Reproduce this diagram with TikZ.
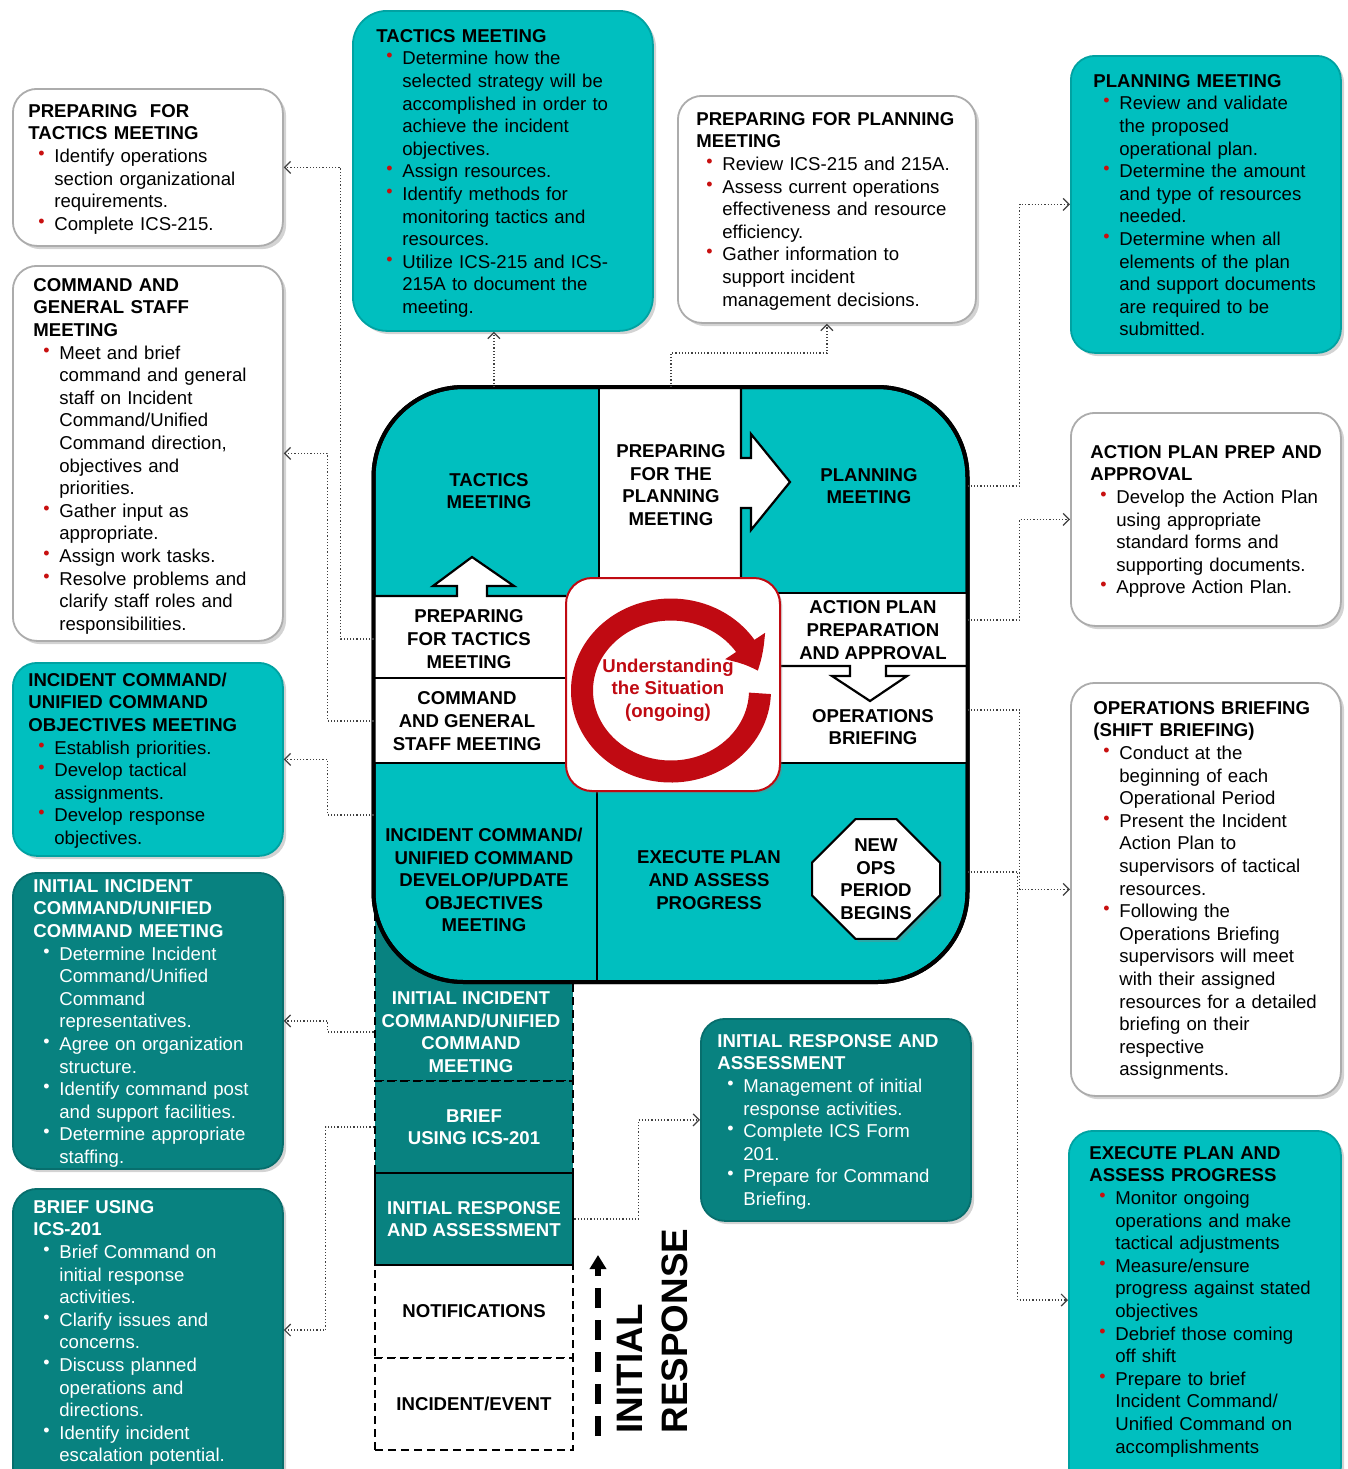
\documentclass[tikz,border=0pt]{standalone}
\usepackage{fontspec}
\setmainfont{Liberation Sans}
\usetikzlibrary{arrows.meta,bending,shadows,shapes.misc}
\definecolor{tealL}{RGB}{0,191,191}
\definecolor{tealD}{RGB}{8,130,128}
\definecolor{bulred}{RGB}{200,16,16}
\definecolor{ringred}{RGB}{192,10,18}
\newcommand{\ttl}[1]{\raggedright\noindent\strut\textbf{#1}\par}
\newcommand{\itm}[2][bulred]{\par\hangindent=13pt\hangafter=1\noindent\makebox[13pt][l]{\hspace{5pt}\textcolor{#1}{\raisebox{.3ex}{\small\textbullet}}}#2\par}
\tikzset{
  card/.style={rounded corners=12pt, inner sep=0pt, anchor=north west, line width=0.9pt,
    drop shadow={opacity=.35, shadow xshift=1.6pt, shadow yshift=-1.6pt}},
  wcard/.style={card, fill=white, draw=gray!65},
  lcard/.style={card, fill=tealL, draw=tealL!85!black},
  dcard/.style={card, fill=tealD, draw=tealD!85!black},
  txt/.style={inner sep=0pt, anchor=north west, text width=150pt, font=\fontsize{9.3}{11.3}\selectfont},
  lbl/.style={inner sep=0pt, align=center, font=\fontsize{9.3}{11.3}\selectfont\bfseries},
  stk/.style={draw, line width=1.2pt, dash pattern=on 4pt off 2.5pt, minimum width=99pt, inner sep=0pt},
  grid/.style={line width=1.1pt},
  conn/.style={densely dotted, line width=0.6pt, black!75, -{Straight Barb[length=3pt,width=6pt]}},
}
\begin{document}
\begin{tikzpicture}[x=0.5pt, y=-0.5pt]
\useasboundingbox (0,0) rectangle (1348,1469);

\node[wcard, minimum width=135pt, minimum height=78.5pt] (b1) at (12,88) {};
\node[txt] (t1) at (28,101) {\ttl{PREPARING\ \ FOR\newline TACTICS MEETING}
  \itm{Identify operations\newline section organizational\newline requirements.}
  \itm{Complete ICS-215.}};

\node[wcard, minimum width=135pt, minimum height=187.5pt] (b2) at (12,265) {};
\node[txt] (t2) at (33,275) {\ttl{COMMAND AND\newline GENERAL STAFF\newline MEETING}
  \itm{Meet and brief\newline command and general\newline staff on Incident\newline Command/Unified\newline Command direction,\newline objectives and\newline priorities.}
  \itm{Gather input as\newline appropriate.}
  \itm{Assign work tasks.}
  \itm{Resolve problems and\newline clarify staff roles and\newline responsibilities.}};

\node[lcard, minimum width=135pt, minimum height=96.5pt] (b3) at (12,662) {};
\node[txt] (t3) at (28,670) {\ttl{INCIDENT COMMAND/\newline UNIFIED COMMAND\newline OBJECTIVES MEETING}
  \itm{Establish priorities.}
  \itm{Develop tactical\newline assignments.}
  \itm{Develop response\newline objectives.}};

\node[dcard, minimum width=135pt, minimum height=148pt] (b4) at (12,872) {};
\node[txt, text=white] (t4) at (33,876) {\ttl{INITIAL INCIDENT\newline COMMAND/UNIFIED\newline COMMAND MEETING}
  \itm[white]{Determine Incident\newline Command/Unified\newline Command\newline representatives.}
  \itm[white]{Agree on organization\newline structure.}
  \itm[white]{Identify command post\newline and support facilities.}
  \itm[white]{Determine appropriate\newline staffing.}};

\node[dcard, minimum width=135pt, minimum height=160pt] (b5) at (12,1188) {};
\node[txt, text=white] (t5) at (33,1197) {\ttl{BRIEF USING\newline ICS-201}
  \itm[white]{Brief Command on\newline initial response\newline activities.}
  \itm[white]{Clarify issues and\newline concerns.}
  \itm[white]{Discuss planned\newline operations and\newline directions.}
  \itm[white]{Identify incident\newline escalation potential.}};

\node[lcard, rounded corners=17pt, minimum width=150pt, minimum height=160pt] (b6) at (352,10) {};
\node[txt] (t6) at (376,26) {\ttl{TACTICS MEETING}
  \itm{Determine how the\newline selected strategy will be\newline accomplished in order to\newline achieve the incident\newline objectives.}
  \itm{Assign resources.}
  \itm{Identify methods for\newline monitoring tactics and\newline resources.}
  \itm{Utilize ICS-215 and ICS-\newline 215A to document the\newline meeting.}};

\node[wcard, minimum width=149pt, minimum height=113.5pt] (b7) at (677,95) {};
\node[txt] (t7) at (696,109) {\ttl{PREPARING FOR PLANNING\newline MEETING}
  \itm{Review ICS-215 and 215A.}
  \itm{Assess current operations\newline effectiveness and resource\newline efficiency.}
  \itm{Gather information to\newline support incident\newline management decisions.}};

\node[lcard, minimum width=135pt, minimum height=148.5pt] (b8) at (1070,55) {};
\node[txt] (t8) at (1093,71) {\ttl{PLANNING MEETING}
  \itm{Review and validate\newline the proposed\newline operational plan.}
  \itm{Determine the amount\newline and type of resources\newline needed.}
  \itm{Determine when all\newline elements of the plan\newline and support documents\newline are required to be\newline submitted.}};

\node[wcard, minimum width=135pt, minimum height=106.5pt] (b9) at (1070,412) {};
\node[txt] (t9) at (1090,442) {\ttl{ACTION PLAN PREP AND\newline APPROVAL}
  \itm{Develop the Action Plan\newline using appropriate\newline standard forms and\newline supporting documents.}
  \itm{Approve Action Plan.}};

\node[wcard, minimum width=135pt, minimum height=206.5pt] (b10) at (1070,682) {};
\node[txt] (t10) at (1093,698) {\ttl{OPERATIONS BRIEFING\newline (SHIFT BRIEFING)}
  \itm{Conduct at the\newline beginning of each\newline Operational Period}
  \itm{Present the Incident\newline Action Plan to\newline supervisors of tactical\newline resources.}
  \itm{Following the\newline Operations Briefing\newline supervisors will meet\newline with their assigned\newline resources for a detailed\newline briefing on their\newline respective\newline assignments.}};

\node[lcard, minimum width=136pt, minimum height=180pt] (b11) at (1068,1130) {};
\node[txt] (t11) at (1089,1143) {\ttl{EXECUTE PLAN AND\newline ASSESS PROGRESS}
  \itm{Monitor ongoing\newline operations and make\newline tactical adjustments}
  \itm{Measure/ensure\newline progress against stated\newline objectives}
  \itm{Debrief those coming\newline off shift}
  \itm{Prepare to brief\newline Incident Command/\newline Unified Command on\newline accomplishments}};

\node[dcard, minimum width=135pt, minimum height=101pt] (b12) at (700,1018) {};
\node[txt, text=white] (t12) at (717,1031) {\ttl{INITIAL RESPONSE AND\newline ASSESSMENT}
  \itm[white]{Management of initial\newline response activities.}
  \itm[white]{Complete ICS Form\newline 201.}
  \itm[white]{Prepare for Command\newline Briefing.}};

\draw[stk, fill=tealD] (375,900) rectangle (573,1081);
\node[stk, fill=tealD, minimum height=46pt] (sbr) at (474,1127) {};
\node[stk, fill=white, minimum height=46.5pt] (sno) at (474,1311.5) {};
\node[stk, fill=white, minimum height=46pt] (sie) at (474,1404) {};
\node[stk, solid, line width=1.4pt, fill=tealD, minimum height=46pt] (sir) at (474,1219) {};

\node[draw, line width=2pt, fill=tealL, rounded corners=45pt, minimum width=297pt, minimum height=297.5pt, inner sep=0pt, outer sep=0pt, anchor=north west] (blk) at (373.5,387) {};
\fill[white] (599,387) -- (741,387) -- (741,458) -- (751,458) -- (751,434) -- (790,482) -- (751,530) -- (751,508) -- (741,508) -- (741,580) -- (599,580) -- cycle;
\draw[grid] (599,387) -- (599,580);
\draw[grid] (741,387) -- (741,458) -- (751,458) -- (751,434) -- (790,482) -- (751,530) -- (751,508) -- (741,508) -- (741,580);
\fill[white] (374,596) rectangle (566,763);
\fill[white] (457,597) -- (457,586) -- (433,586) -- (472,557) -- (514,586) -- (487,586) -- (487,597) -- cycle;
\draw[grid] (374,596) -- (457,596) -- (457,586) -- (433,586) -- (472,557) -- (514,586) -- (487,586) -- (487,596) -- (566,596);
\draw[grid] (374,678) -- (566,678) (374,763) -- (566,763);
\fill[white] (778,593) rectangle (967,763);
\draw[grid] (778,593) -- (967,593) (778,763) -- (967,763);
\draw[grid] (778,666) -- (850,666) -- (850,676) -- (832,676) -- (870,701) -- (907,676) -- (886,676) -- (886,666) -- (967,666);
\draw[grid] (597,785) -- (597,982);
\draw[line width=2pt, rounded corners=45pt] (blk.north west) rectangle (blk.south east);

\node[draw=ringred, line width=1pt, fill=white, rounded corners=13pt, minimum width=107pt, minimum height=106.5pt, inner sep=0pt, anchor=north west, drop shadow={opacity=.3, shadow xshift=1.2pt, shadow yshift=-1.2pt}] (usq) at (565,577) {};
\draw[ringred, line width=11pt, -{Triangle[width=23pt,length=14pt,bend]}] ([xshift=-1pt,yshift=-3pt]usq.center) ++(-2:44.5pt and 40.5pt) arc[start angle=-2, end angle=-346, x radius=44.5pt, y radius=40.5pt];

\node[lbl] (lt) at (489,491) {TACTICS\\MEETING};
\node[lbl] (lpp) at (671,485) {PREPARING\\FOR THE\\PLANNING\\MEETING};
\node[lbl] (lpm) at (869,486) {PLANNING\\MEETING};
\node[lbl] (lpt) at (469,639) {PREPARING\\FOR TACTICS\\MEETING};
\node[lbl] (lcg) at (467,721) {COMMAND\\AND GENERAL\\STAFF MEETING};
\node[lbl] (lap) at (873,630) {ACTION PLAN\\PREPARATION\\AND APPROVAL};
\node[lbl] (lob) at (873,727) {OPERATIONS\\BRIEFING};
\node[lbl] (lic) at (484,880) {INCIDENT COMMAND/\\UNIFIED COMMAND\\DEVELOP/UPDATE\\OBJECTIVES\\MEETING};
\node[lbl] (lex) at (709,880) {EXECUTE PLAN\\AND ASSESS\\PROGRESS};
\node[lbl, text=ringred] (lus) at (668,690) {Understanding\\the Situation\\(ongoing)};
\node[lbl, draw, line width=1pt, fill=white, chamfered rectangle, chamfered rectangle xsep=12pt, chamfered rectangle ysep=9.75pt, minimum width=64pt, minimum height=53.5pt, drop shadow={opacity=.35, shadow xshift=1.5pt, shadow yshift=-1.5pt}] (nops) at (876,879) {NEW\\OPS\\PERIOD\\BEGINS};

\node[lbl, text=white] (sii) at (471,1032) {INITIAL INCIDENT\\COMMAND/UNIFIED\\COMMAND\\MEETING};
\node[lbl, text=white] at (sbr) {BRIEF\\USING ICS-201};
\node[lbl, text=white] at (sir) {INITIAL RESPONSE\\AND ASSESSMENT};
\node[lbl] at (sno) {NOTIFICATIONS};
\node[lbl] at (sie) {INCIDENT/EVENT};

\coordinate (ia0) at (598,1436);
\coordinate (ia1) at (598,1255);
\draw[line width=2.6pt, dash pattern=on 10pt off 6pt, -{Triangle[length=7pt,width=8pt]}] (ia0) -- (ia1);
\node[rotate=90, align=left, inner sep=0pt, font=\fontsize{18.4}{22.5}\selectfont\bfseries] (irl) at (653,1331) {INITIAL\\RESPONSE};

\draw[conn] (lpt -| blk.west) -- ++(-33,0) |- (b1.east);
\draw[conn] (lcg -| blk.west) -- ++(-46,0) |- (b2.east);
\draw[conn] ([yshift=32.5pt]lic.center -| blk.west) -- ++(-46,0) |- (b3.east);
\draw[conn] (sii -| blk.west) -- ++(-46,0) |- (b4.east);
\draw[conn] (sbr.west) -- ++(-48,0) |- ([yshift=-71pt]b5.north east);
\draw[conn] ([xshift=-4.5pt]b6.south |- blk.north) -- ([xshift=-4.5pt]b6.south);
\draw[conn] (lpp |- blk.north) -- ++(0,-34) -| (b7.south);
\draw[conn] (lpm -| blk.east) -- ++(52,0) |- (b8.west);
\draw[conn] ([yshift=5pt]lap.center -| blk.east) -- ++(52,0) |- (b9.west);
\draw[conn] ([yshift=8.5pt]lob.center -| blk.east) -- ++(52,0) |- (b10.west);
\draw[conn] ([yshift=4pt]lex.center -| blk.east) -- ++(50,0) |- ([yshift=-85pt]b11.north west);
\draw[conn] (sir.east) -- ++(64,0) |- (b12.west);
\end{tikzpicture}
\end{document}
